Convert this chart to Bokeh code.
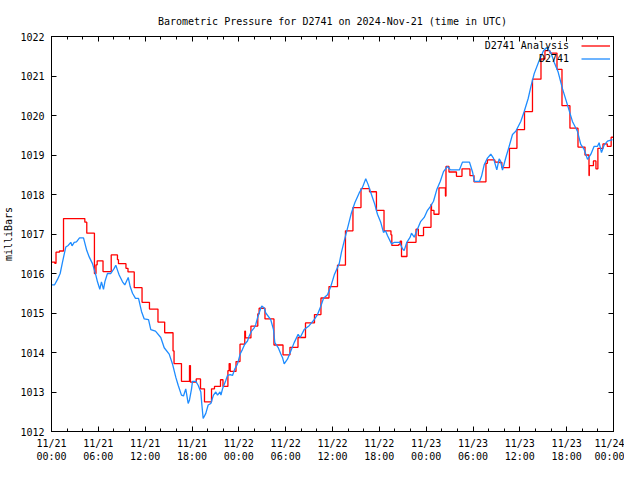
from bokeh.plotting import figure
from bokeh.models import FixedTicker, LinearAxis, Range1d, Legend, LegendItem, Label
from bokeh.embed import file_html
from bokeh.resources import INLINE

# ---- data (hours since 2024-11-21 00:00 UTC, pressure in mb) ----
analysis_hours = [0.0, 0.42, 0.58, 1.02, 1.54, 4.27, 4.52, 5.5, 5.7, 5.85, 6.6, 7.65, 8.45, 8.58,
                  9.54, 9.8, 10.6, 11.6, 12.55, 13.64, 14.5, 15.57, 15.7, 16.65, 17.68, 17.8, 18.54,
                  19.09, 19.6, 20.5, 20.88, 21.65, 21.97, 22.6, 22.76, 22.9, 23.64, 24.15, 24.76,
                  24.85, 25.55, 26.43, 26.6, 27.35, 28.5, 29.66, 30.55, 31.58, 32.54, 33.69, 34.52,
                  35.55, 36.64, 37.66, 38.62, 39.65, 40.74, 41.63, 42.6, 43.49, 43.6, 44.45, 44.67,
                  44.84, 45.54, 46.7, 47.0, 47.66, 48.62, 48.68, 49.0, 49.64, 50.47, 50.54, 50.92,
                  51.88, 52.59, 53.61, 54.13, 55.66, 55.85, 56.8, 57.4, 57.7, 58.67, 59.63, 60.6,
                  61.62, 62.71, 63.22, 63.86, 64.76, 65.4, 66.42, 67.45, 68.35, 68.86, 68.9, 69.43,
                  69.75, 70.0, 70.65, 71.2, 71.7, 72.0]
analysis_mb = [1016.29, 1016.26, 1016.54, 1016.57, 1017.39, 1017.3, 1017.02, 1016.0, 1016.22, 1016.32,
               1016.05, 1016.47, 1016.35, 1016.25, 1016.13, 1016.04, 1015.64, 1015.27, 1015.1, 1014.77,
               1014.5, 1014.04, 1013.72, 1013.27, 1013.67, 1013.25, 1013.33, 1013.08, 1012.75, 1013.08,
               1013.14, 1013.31, 1013.14, 1013.54, 1013.72, 1013.52, 1013.77, 1014.21, 1014.54, 1014.37,
               1014.67, 1014.98, 1015.12, 1014.85, 1014.19, 1013.94, 1014.13, 1014.38, 1014.75, 1014.96,
               1015.38, 1015.67, 1016.21, 1017.08, 1017.67, 1018.15, 1018.07, 1017.6, 1017.08, 1016.98,
               1016.71, 1016.73, 1016.82, 1016.43, 1016.79, 1017.12, 1016.96, 1017.17, 1017.75, 1017.6,
               1017.5, 1018.17, 1017.96, 1018.71, 1018.57, 1018.46, 1018.65, 1018.48, 1018.32, 1018.79,
               1018.875, 1018.82, 1018.81, 1018.68, 1019.17, 1019.64, 1020.1, 1020.92, 1021.43, 1021.64,
               1021.58, 1021.17, 1020.25, 1019.68, 1019.2, 1019.0, 1018.48, 1018.73, 1018.85, 1018.65,
               1019.17, 1019.28, 1019.22, 1019.45, 1019.45]

obs_hours = [0.0, 0.38, 0.77, 1.11, 1.41, 1.83, 2.14, 2.47, 2.63, 2.91, 3.2, 3.59, 4.1, 4.52, 4.83,
             5.25, 5.68, 5.89, 6.19, 6.4, 6.66, 6.85, 7.17, 7.6, 8.03, 8.24, 8.46, 8.67, 9.1, 9.39,
             9.83, 10.08, 10.38, 10.76, 11.15, 11.53, 11.88, 12.43, 12.72, 13.32, 14.0, 14.44, 15.08,
             15.5, 15.92, 16.23, 16.65, 16.91, 17.2, 17.51, 17.68, 17.94, 18.06, 18.49, 18.79, 19.13,
             19.25, 19.43, 19.77, 20.07, 20.41, 20.75, 21.05, 21.27, 21.59, 21.71, 21.91, 22.33, 22.55,
             22.89, 23.19, 23.48, 23.83, 24.17, 24.47, 24.76, 25.11, 25.33, 25.62, 25.97, 26.17, 26.39,
             26.74, 26.94, 27.25, 27.45, 28.09, 28.44, 28.61, 29.04, 29.38, 29.59, 29.81, 30.23, 30.66,
             31.09, 31.6, 31.86, 32.37, 33.01, 33.65, 34.08, 34.5, 34.85, 35.36, 35.78, 36.22, 36.86,
             37.15, 37.57, 38.01, 38.43, 38.86, 39.42, 39.84, 40.26, 40.57, 40.99, 41.42, 41.76, 42.19,
             42.53, 42.79, 43.04, 43.56, 43.94, 44.58, 44.97, 45.18, 45.52, 45.95, 46.12, 46.47, 46.89,
             47.31, 47.75, 48.17, 48.55, 48.94, 49.36, 49.8, 50.22, 50.73, 51.11, 52.27, 52.65, 53.55,
             53.94, 54.19, 54.83, 55.09, 55.43, 55.85, 56.28, 56.62, 57.05, 57.35, 57.52, 57.78, 58.2,
             58.63, 59.06, 59.48, 60.12, 60.56, 61.07, 61.4, 61.84, 62.48, 63.03, 63.45, 63.96, 64.4,
             64.91, 65.46, 66.1, 66.74, 67.38, 67.81, 68.24, 68.67, 69.1, 69.52, 69.95, 70.16, 70.46,
             70.8, 71.23, 71.87]
obs_mb = [1015.71, 1015.71, 1015.85, 1016.0, 1016.29, 1016.67, 1016.71, 1016.79, 1016.7, 1016.79,
          1016.8, 1016.9, 1016.9, 1016.58, 1016.42, 1016.25, 1015.96, 1015.79, 1015.6, 1015.79, 1015.6,
          1015.8, 1016.0, 1016.0, 1016.13, 1016.21, 1016.08, 1015.96, 1015.79, 1015.71, 1015.9, 1015.67,
          1015.5, 1015.37, 1015.37, 1015.04, 1014.85, 1014.83, 1014.58, 1014.54, 1014.38, 1014.12,
          1013.96, 1013.71, 1013.375, 1013.17, 1012.92, 1012.9, 1013.08, 1012.71, 1012.8, 1013.08,
          1013.27, 1013.27, 1013.17, 1013.0, 1012.71, 1012.33, 1012.46, 1012.67, 1012.71, 1012.92,
          1013.0, 1012.92, 1013.0, 1012.92, 1013.08, 1013.29, 1013.42, 1013.44, 1013.42, 1013.58,
          1013.71, 1013.96, 1014.08, 1014.21, 1014.29, 1014.42, 1014.54, 1014.625, 1014.71, 1014.875,
          1015.08, 1015.18, 1015.125, 1015.0, 1014.83, 1014.58, 1014.25, 1014.125, 1013.96, 1013.875,
          1013.71, 1013.83, 1014.04, 1014.25, 1014.46, 1014.38, 1014.58, 1014.68, 1014.83, 1014.96,
          1015.17, 1015.375, 1015.46, 1015.67, 1015.96, 1016.25, 1016.54, 1016.875, 1017.21, 1017.54,
          1017.79, 1018.04, 1018.18, 1018.4, 1018.25, 1018.0, 1017.75, 1017.5, 1017.29, 1017.04,
          1017.08, 1016.96, 1016.75, 1016.79, 1016.79, 1016.625, 1016.58, 1016.79, 1016.92, 1017.02,
          1016.92, 1017.125, 1017.32, 1017.42, 1017.6, 1017.7, 1017.83, 1018.125, 1018.33, 1018.58,
          1018.71, 1018.625, 1018.625, 1018.82, 1018.82, 1018.57, 1018.33, 1018.33, 1018.46, 1018.75,
          1018.92, 1019.02, 1018.92, 1018.625, 1018.9, 1018.85, 1018.62, 1018.93, 1019.22, 1019.52,
          1019.6, 1019.85, 1020.1, 1020.43, 1020.72, 1021.06, 1021.39, 1021.64, 1021.72, 1021.6,
          1021.35, 1021.1, 1020.68, 1020.27, 1019.85, 1019.6, 1019.27, 1019.14, 1018.89, 1019.02,
          1019.22, 1019.22, 1019.31, 1019.06, 1019.25, 1019.35, 1019.39]

x_tick_hours = [0, 6, 12, 18, 24, 30, 36, 42, 48, 54, 60, 66, 72]
x_tick_labels = ["11/21\n00:00", "11/21\n06:00", "11/21\n12:00", "11/21\n18:00",
                 "11/22\n00:00", "11/22\n06:00", "11/22\n12:00", "11/22\n18:00",
                 "11/23\n00:00", "11/23\n06:00", "11/23\n12:00", "11/23\n18:00", "11/24\n00:00"]
x_minor_hours = [h for h in range(0, 73, 2)]
y_ticks = [1012, 1013, 1014, 1015, 1016, 1017, 1018, 1019, 1020, 1021, 1022]

title_text = "Barometric Pressure for D2741 on 2024-Nov-21 (time in UTC)"
series_names = ["D2741 Analysis", "D2741"]
series_colors = ["#ff0000", "#1e8cff"]

FONT = "DejaVu Sans Mono"

p = figure(width=624, height=464, output_backend="svg", toolbar_location=None,
           x_range=Range1d(0, 72), y_range=Range1d(1012, 1022),
           min_border_left=51, min_border_right=11, min_border_top=36, min_border_bottom=30,
           x_axis_type=None, y_axis_type=None)
p.grid.visible = False
p.outline_line_color = "black"
p.outline_line_width = 1
p.background_fill_color = "white"
p.border_fill_color = "white"

p.title.text = title_text
p.title.align = "center"
p.title.text_font = FONT
p.title.text_font_size = "10px"
p.title.text_font_style = "normal"
p.title.text_color = "black"
p.title.standoff = 20

xt = FixedTicker(ticks=x_tick_hours, minor_ticks=x_minor_hours)
yt = FixedTicker(ticks=y_ticks, minor_ticks=[])


def style_axis(ax):
    ax.axis_line_color = "black"
    ax.major_tick_in = 5
    ax.major_tick_out = 0
    ax.minor_tick_in = 3
    ax.minor_tick_out = 0
    ax.major_tick_line_color = "black"
    ax.minor_tick_line_color = "black"
    ax.major_label_text_font = FONT
    ax.major_label_text_color = "black"
    ax.major_label_text_font_size = "10px"


xb = LinearAxis(ticker=xt)
style_axis(xb)
xb.major_label_overrides = {h: lab for h, lab in zip(x_tick_hours, x_tick_labels)}
xb.major_label_standoff = 6
p.add_layout(xb, "below")

# mirrored ticks (no labels) on top and right, as in the reference
xa = LinearAxis(ticker=xt)
style_axis(xa)
xa.major_label_overrides = {h: "" for h in x_tick_hours}
xa.major_label_standoff = 0
p.add_layout(xa, "above")

yl = LinearAxis(ticker=yt, axis_label="milliBars")
style_axis(yl)
yl.major_label_standoff = 7
yl.axis_label_standoff = 3
yl.axis_label_text_font = FONT
yl.axis_label_text_font_size = "10px"
yl.axis_label_text_font_style = "normal"
yl.axis_label_text_color = "black"
p.add_layout(yl, "left")

yr = LinearAxis(ticker=yt)
style_axis(yr)
yr.major_label_overrides = {t: "" for t in y_ticks}
yr.major_label_standoff = 0
p.add_layout(yr, "right")

r_an = p.step(analysis_hours, analysis_mb, mode="after", line_color=series_colors[0], line_width=1.3)
r_ob = p.line(obs_hours, obs_mb, line_color=series_colors[1], line_width=1.3)

legend = Legend(items=[LegendItem(label=" ", renderers=[r_an]), LegendItem(label=" ", renderers=[r_ob])],
                location="top_right", orientation="vertical", margin=0, padding=3, spacing=0,
                glyph_width=29, glyph_height=13, label_height=13, label_width=0, label_standoff=0,
                label_text_font=FONT, label_text_font_size="10px",
                background_fill_alpha=0, border_line_alpha=0)
p.add_layout(legend)

for name, yv in zip(series_names, [1021.76, 1021.44]):
    p.add_layout(Label(x=66.3, y=yv, text=name, text_align="right", text_baseline="middle",
                       text_font=FONT, text_font_size="10px", text_color="black"))

open("out.html", "w").write(file_html(p, INLINE))
